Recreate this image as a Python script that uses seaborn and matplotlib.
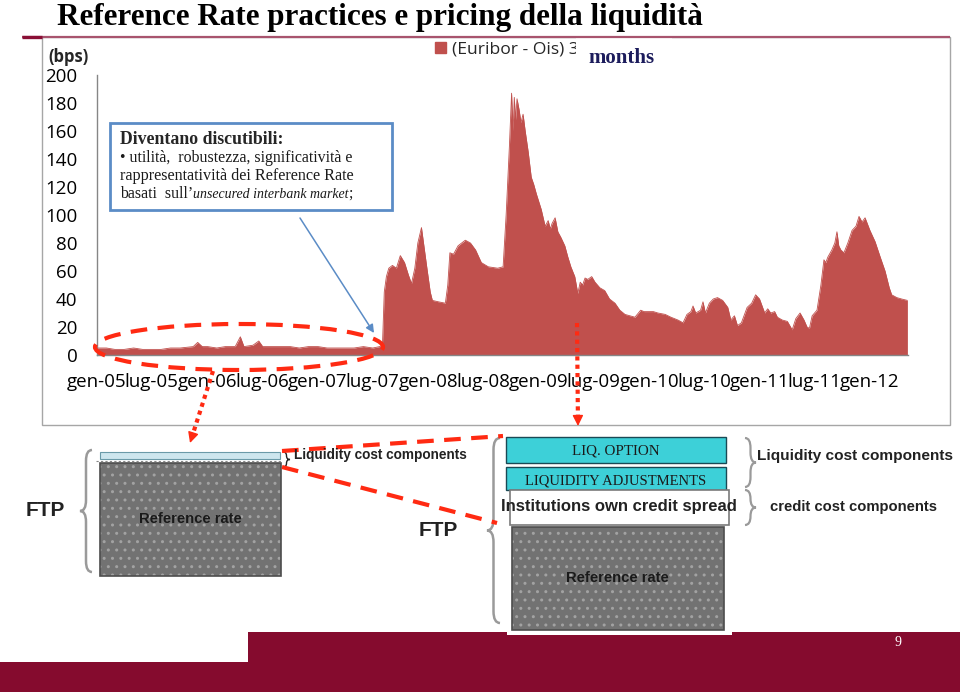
import numpy as np
import pandas as pd
import matplotlib
matplotlib.use("Agg")
import matplotlib.pyplot as plt
import seaborn as sns
from matplotlib.patches import Rectangle, Ellipse, Polygon, PathPatch, Patch
from matplotlib.path import Path

# ---------------- data ----------------
dates = [
    "2005-01-03", "2005-02-01", "2005-03-01", "2005-04-01", "2005-05-02", "2005-06-01",
    "2005-07-01", "2005-08-01", "2005-09-01", "2005-10-03", "2005-11-15", "2005-11-30",
    "2005-12-15", "2006-01-02", "2006-02-01", "2006-03-01", "2006-04-03", "2006-04-20",
    "2006-05-02", "2006-06-01", "2006-06-20", "2006-07-03", "2006-08-01", "2006-09-01",
    "2006-10-02", "2006-11-01", "2006-12-01", "2007-01-02", "2007-02-01", "2007-03-01",
    "2007-04-02", "2007-05-01", "2007-06-01", "2007-07-02", "2007-07-25", "2007-08-03",
    "2007-08-09", "2007-08-16", "2007-08-24", "2007-09-05", "2007-09-18", "2007-10-01",
    "2007-10-15", "2007-10-28", "2007-11-07", "2007-11-18", "2007-11-28", "2007-12-10",
    "2007-12-18", "2007-12-28", "2008-01-08", "2008-01-15", "2008-02-04", "2008-02-27",
    "2008-03-06", "2008-03-13", "2008-03-25", "2008-04-09", "2008-05-03", "2008-05-20",
    "2008-06-06", "2008-06-25", "2008-07-18", "2008-08-18", "2008-09-05", "2008-09-15",
    "2008-09-26", "2008-10-03", "2008-10-08", "2008-10-12", "2008-10-16", "2008-10-21",
    "2008-10-28", "2008-11-03", "2008-11-10", "2008-11-17", "2008-11-27", "2008-12-07",
    "2008-12-15", "2008-12-24", "2009-01-09", "2009-01-22", "2009-02-01", "2009-02-08",
    "2009-02-14", "2009-02-24", "2009-03-05", "2009-03-15", "2009-03-28", "2009-04-07",
    "2009-04-17", "2009-04-30", "2009-05-10", "2009-05-18", "2009-05-26", "2009-06-03",
    "2009-06-12", "2009-06-25", "2009-07-06", "2009-07-22", "2009-08-07", "2009-08-23",
    "2009-09-10", "2009-09-26", "2009-10-13", "2009-10-29", "2009-11-15", "2009-12-04",
    "2009-12-15", "2009-12-27", "2010-01-15", "2010-01-30", "2010-02-23", "2010-03-14",
    "2010-04-06", "2010-04-23", "2010-05-06", "2010-05-19", "2010-05-26", "2010-06-04",
    "2010-06-20", "2010-06-28", "2010-07-06", "2010-07-19", "2010-08-01", "2010-08-15",
    "2010-09-01", "2010-09-18", "2010-09-28", "2010-10-10", "2010-10-20", "2010-11-02",
    "2010-11-21", "2010-12-06", "2010-12-19", "2011-01-01", "2011-01-18", "2011-01-28",
    "2011-02-07", "2011-02-20", "2011-03-01", "2011-03-17", "2011-04-03", "2011-04-19",
    "2011-05-01", "2011-05-15", "2011-05-28", "2011-06-07", "2011-06-15", "2011-06-24",
    "2011-07-10", "2011-07-23", "2011-08-02", "2011-08-08", "2011-08-15", "2011-08-28",
    "2011-09-07", "2011-09-14", "2011-09-20", "2011-09-27", "2011-10-07", "2011-10-20",
    "2011-11-03", "2011-11-16", "2011-11-26", "2011-12-06", "2011-12-16", "2012-01-01",
    "2012-01-18", "2012-02-04", "2012-02-20", "2012-03-05", "2012-03-13", "2012-03-30",
    "2012-04-15", "2012-05-04",
]
spread_bps = [
    5, 5, 4, 4, 5, 4,
    4, 4, 5, 5, 6, 9,
    6, 6, 5, 6, 6, 13,
    6, 7, 10, 6, 6, 6,
    6, 5, 6, 6, 5, 5,
    5, 5, 6, 5, 6, 7,
    45, 56, 62, 64, 62, 71,
    66, 57, 51, 62, 80, 91,
    78, 62, 45, 39, 38, 37,
    50, 73, 72, 78, 82, 80,
    75, 66, 63, 62, 63, 100,
    150, 187, 160, 184, 168, 183,
    175, 166, 172, 160, 145, 127,
    122, 115, 104, 92, 96, 90,
    94, 98, 88, 84, 78, 70,
    63, 56, 44, 52, 50, 55,
    54, 56, 52, 48, 46, 40,
    37, 32, 29, 28, 27, 32,
    31, 31, 31, 30, 29, 27,
    25, 23, 29, 31, 35, 30,
    32, 38, 30, 37, 40, 41,
    39, 34, 25, 28, 21, 23,
    34, 37, 43, 40, 30, 33,
    30, 31, 27, 25, 24, 18,
    26, 30, 25, 20, 19, 28,
    32, 50, 68, 66, 70, 75,
    80, 88, 78, 75, 73, 80,
    89, 92, 99, 95, 98, 89,
    81, 70, 60, 48, 43, 41,
    40, 39,
]
tick_dates = ["2005-01-01", "2005-07-01", "2006-01-01", "2006-07-01", "2007-01-01",
              "2007-07-01", "2008-01-01", "2008-07-01", "2009-01-01", "2009-07-01",
              "2010-01-01", "2010-07-01", "2011-01-01", "2011-07-01", "2012-01-01"]
tick_labels = ["gen-05", "lug-05", "gen-06", "lug-06", "gen-07", "lug-07", "gen-08",
               "lug-08", "gen-09", "lug-09", "gen-10", "lug-10", "gen-11", "lug-11", "gen-12"]
y_ticks = [0, 20, 40, 60, 80, 100, 120, 140, 160, 180, 200]
series_name = "(Euribor - Ois) 3"

df = pd.DataFrame({"date": pd.to_datetime(dates), "spread": spread_bps})

# ---------------- style ----------------
sns.set_theme(style="white")
plt.rcParams["font.family"] = ["Open Sans", "DejaVu Sans"]
plt.rcParams["hatch.linewidth"] = 1.0

W, H = 960, 692
fig = plt.figure(figsize=(W / 100, H / 100), dpi=100)
fig.patch.set_facecolor("white")

RED = "#c0504d"
AXC = "#868686"

ax = fig.add_axes([97 / W, 1 - 355 / H, (908 - 97) / W, (355 - 75) / H], zorder=1)
ax.set_facecolor("none")
ax.fill_between(df["date"], df["spread"], 0, color=RED, lw=0, label=series_name)
sns.lineplot(data=df, x="date", y="spread", ax=ax, color=RED, lw=0.6)
ax.set_xlim(pd.Timestamp("2005-01-01"), pd.Timestamp("2012-05-06"))
ax.set_ylim(0, 200)
ax.set_yticks(y_ticks)
ax.set_yticklabels([str(v) for v in y_ticks])
ax.set_xticks(pd.to_datetime(tick_dates))
ax.set_xticklabels(tick_labels)
ax.set_xlabel("")
ax.set_ylabel("")
for s in ["top", "right"]:
    ax.spines[s].set_visible(False)
for s in ["left", "bottom"]:
    ax.spines[s].set_color(AXC)
    ax.spines[s].set_linewidth(1)
ax.tick_params(axis="both", direction="out", length=5, width=1, color=AXC,
               labelsize=13.5, labelcolor="black")
ax.tick_params(axis="y", pad=9)
ax.tick_params(axis="x", pad=8)

leg = ax.legend(handles=[Patch(facecolor=RED, edgecolor=RED)], labels=[series_name],
                loc="upper left", bbox_to_anchor=(435 / W, 1 - 42 / H),
                bbox_transform=fig.transFigure, frameon=False, fontsize=12.6,
                handlelength=0.6, handleheight=0.6, handletextpad=0.4,
                borderpad=0, borderaxespad=0)

# ---------------- overlay (pixel coordinates) ----------------
ov = fig.add_axes([0, 0, 1, 1], zorder=5)
ov.set_xlim(0, W)
ov.set_ylim(H, 0)
ov.axis("off")
ov.patch.set_alpha(0)

SERIF = ["Liberation Serif", "DejaVu Serif"]
SANS = ["Liberation Sans", "DejaVu Sans"]
REDL = "#ff2a12"

# title
ov.text(57, 25.5, "Reference Rate practices e pricing della liquidità", family=SERIF,
        fontweight="bold", fontsize=22.4, ha="left", va="baseline", color="black")

# chart frame and title rule
ov.add_patch(Rectangle((42, 37), 908, 388, fill=False, ec="#a6a6a6", lw=1))
ov.plot([22, 950], [37, 37], color="#a8546e", lw=1.6, solid_capstyle="butt")
ov.plot([22, 42], [37, 37], color="#8a0f35", lw=2.4, solid_capstyle="butt")

# units label
ov.text(48, 57, "(bps)", fontsize=12, fontweight="bold", ha="left", va="center")

# "months" box
ov.add_patch(Rectangle((576, 33), 96, 36, fc="white", ec="none"))
ov.text(588, 58, "months", family=SERIF, fontweight="bold", fontsize=15,
        color="#1c1c5c", ha="left", va="center")

# callout box
FS = 11.4
ov.add_patch(Rectangle((110, 123), 282, 87, fc="white", ec="#5b8cc6", lw=2))
ov.text(120, 140, "Diventano discutibili:", family=SERIF, fontweight="bold",
        fontsize=12.8, ha="left", va="center")
ov.text(120, 158, "• utilità,  robustezza, significatività e", family=SERIF,
        fontsize=FS, ha="left", va="center", color="#1a1a1a")
ov.text(120, 176, "rappresentatività dei Reference Rate", family=SERIF,
        fontsize=FS + 0.2, ha="left", va="center", color="#1a1a1a")
t1 = ov.text(120, 194, "basati  sull\u2019", family=SERIF, fontsize=FS,
             ha="left", va="center", color="#1a1a1a")
r = fig.canvas.get_renderer()
x1 = t1.get_window_extent(r).x1
t2 = ov.text(x1, 194, "unsecured interbank market", family=SERIF, style="italic",
             fontsize=10, ha="left", va="center", color="#1a1a1a")
x2 = t2.get_window_extent(r).x1
ov.text(x2, 194, ";", family=SERIF, fontsize=FS, ha="left", va="center",
        color="#1a1a1a")

# blue arrow
ov.annotate("", xy=(374, 333), xytext=(300, 218),
            arrowprops=dict(arrowstyle="-|>", color="#5b8cc6", lw=1.1,
                            mutation_scale=12, shrinkA=0, shrinkB=0))

# red dashed ellipse
ov.add_patch(Ellipse((239, 347), 288, 46, fill=False, ec=REDL, lw=3,
                     ls=(0, (4, 2.5))))

# red dotted arrows
def dotted_arrow(x0, y0, x1, y1):
    v = np.array([x1 - x0, y1 - y0], float)
    u = v / np.hypot(*v)
    xb, yb = np.array([x1, y1]) - u * 10
    ov.plot([x0, xb], [y0, yb], color=REDL, lw=3, ls=(0, (1, 1)),
            solid_capstyle="butt", dash_capstyle="butt")
    ov.annotate("", xy=(x1, y1), xytext=(xb, yb),
                arrowprops=dict(arrowstyle="-|>", color=REDL, lw=1,
                                mutation_scale=16, shrinkA=0, shrinkB=0))

dotted_arrow(213, 371, 190, 443)
dotted_arrow(577, 323, 578, 426)

# braces
def brace(xb, y0, y1, w, s, color, lw):
    xm = xb + s * w / 2
    xt = xb + s * w
    ym = (y0 + y1) / 2
    q = min(w * 0.9, (y1 - y0) / 4)
    verts = [(xb, y0), (xm, y0), (xm, y0 + q),
             (xm, ym - q), (xm, ym), (xt, ym),
             (xm, ym), (xm, ym + q),
             (xm, y1 - q), (xm, y1), (xb, y1)]
    codes = [Path.MOVETO, Path.CURVE3, Path.CURVE3,
             Path.LINETO, Path.CURVE3, Path.CURVE3,
             Path.CURVE3, Path.CURVE3,
             Path.LINETO, Path.CURVE3, Path.CURVE3]
    ov.add_patch(PathPatch(Path(verts, codes), fill=False, ec=color, lw=lw))

GRAYB = "#9a9a9a"

def dotted_block(x, y, w, h):
    ov.add_patch(Rectangle((x, y), w, h, fc="#727272", ec="#a2a2a2", lw=0, hatch=".."))
    ov.add_patch(Rectangle((x, y), w, h, fill=False, ec="#4d4d4d", lw=1.2))

# ----- left diagram -----
brace(92, 450, 572, 12, -1, GRAYB, 1.8)
ov.text(45, 511, "FTP", family=SANS, fontweight="bold", fontsize=15,
        ha="center", va="center", color="#222222")
ov.add_patch(Rectangle((100, 452), 180, 7, fc="#cde6ee", ec="#6a9aa8", lw=0.8))
ov.plot([96, 282], [460.5, 460.5], color="#888888", lw=0.8, ls=(0, (2, 2)))
dotted_block(100, 463, 181, 113)
ov.text(190, 519, "Reference rate", family=SANS, fontweight="bold", fontsize=10.6,
        ha="center", va="center", color="#1a1a1a")
brace(283, 452, 467, 7, 1, "#222222", 1.0)
ov.text(294, 455, "Liquidity cost components", family=SANS, fontweight="bold",
        fontsize=9.8, ha="left", va="center", color="#222222")

# connecting dashed lines
ov.plot([282, 503], [451, 436], color=REDL, lw=3, ls=(0, (4, 2.5)))
ov.plot([282, 497], [467, 523], color=REDL, lw=3, ls=(0, (4, 2.5)))

# ----- right diagram -----
ov.text(438, 531, "FTP", family=SANS, fontweight="bold", fontsize=15,
        ha="center", va="center", color="#222222")
brace(500, 438, 623, 13, -1, GRAYB, 1.8)
CYAN = "#3dd0d8"
ov.add_patch(Rectangle((506, 437), 220, 26, fc=CYAN, ec="#1a4a55", lw=1))
ov.text(616, 451, "LIQ. OPTION", family=SERIF, fontsize=10.8, ha="center",
        va="center", color="#1a1a1a")
ov.add_patch(Rectangle((506, 467), 220, 23, fc=CYAN, ec="#1a4a55", lw=1))
ov.text(616, 481, "LIQUIDITY ADJUSTMENTS", family=SERIF, fontsize=10.5,
        ha="center", va="center", color="#1a1a1a")
ov.add_patch(Rectangle((510, 490), 219, 35, fc="white", ec="#7a7a7a", lw=1.2))
ov.text(619, 507, "Institutions own credit spread", family=SANS, fontweight="bold",
        fontsize=12, ha="center", va="center", color="#222222")
dotted_block(512, 527, 212, 103)
ov.text(617, 578, "Reference rate", family=SANS, fontweight="bold", fontsize=10.6,
        ha="center", va="center", color="#1a1a1a")
brace(745, 438, 487, 11, 1, GRAYB, 1.6)
ov.text(757, 456, "Liquidity cost components", family=SANS, fontweight="bold",
        fontsize=11.1, ha="left", va="center", color="#222222")
brace(745, 490, 525, 11, 1, GRAYB, 1.6)
ov.text(770, 507, "credit cost components", family=SANS, fontweight="bold",
        fontsize=10.6, ha="left", va="center", color="#222222")

# ----- bottom band -----
ov.add_patch(Polygon([(0, 662), (248, 662), (248, 632), (960, 632), (960, 692), (0, 692)],
                     closed=True, fc="#850b2e", ec="none"))
ov.add_patch(Rectangle((507, 631), 225, 4, fc="white", ec="none"))
ov.text(898, 643, "9", family=SERIF, fontsize=10, color="white", ha="center",
        va="center")

fig.savefig("out.png", dpi=100, facecolor="white")
